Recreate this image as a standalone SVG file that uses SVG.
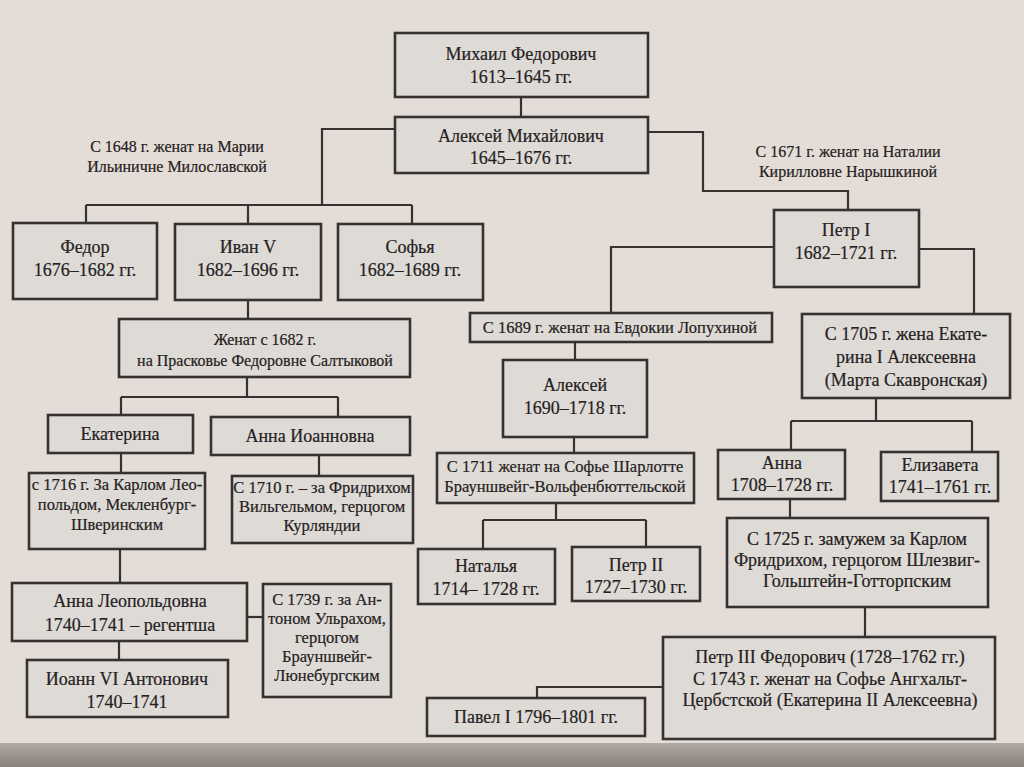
<svg xmlns="http://www.w3.org/2000/svg" width="1024" height="767" viewBox="0 0 1024 767">
<defs>
<linearGradient id="edge" x1="0" y1="0" x2="0" y2="1">
<stop offset="0" stop-color="#b3a9a3"/>
<stop offset="1" stop-color="#8a807b"/>
</linearGradient>
</defs>
<style>
.box{fill:#dedad6;stroke:#363232;stroke-width:2.6}
.con{fill:none;stroke:#363232;stroke-width:2.2}
text{font-family:"Liberation Serif","Times New Roman",serif;fill:#252121;text-anchor:middle;stroke:#252121;stroke-width:0.2}
.f18{font-size:18px}
.f17{font-size:17px}
.f165{font-size:16.5px}
.f16{font-size:16px}
</style>
<rect x="0" y="0" width="1024" height="767" fill="#e4ddd7"/>
<rect x="0" y="743" width="1024" height="24" fill="url(#edge)"/>

<g id="connectors">
<path class="con" d="M521,97 V117"/>
<path class="con" d="M395,129 H322 V205 M86,205 H412 M86,205 V223 M248,205 V224 M412,205 V224"/>
<path class="con" d="M648,132 H703 V191 H848 V210"/>
<path class="con" d="M774,247 H611 V313"/>
<path class="con" d="M919,249 H974 V314"/>
<path class="con" d="M248,300 V319"/>
<path class="con" d="M247,377 V397 M121,397 H338 M121,397 V415 M338,397 V417"/>
<path class="con" d="M121,453 V473"/>
<path class="con" d="M319,455 V476"/>
<path class="con" d="M120,549 V583"/>
<path class="con" d="M247,617 H263"/>
<path class="con" d="M119,641 V660"/>
<path class="con" d="M575,342 V360"/>
<path class="con" d="M574,437 V453"/>
<path class="con" d="M556,503 V520 M483,520 H646 M483,520 V549 M646,520 V547"/>
<path class="con" d="M876,398 V421 M791,421 H972 M791,421 V450 M972,421 V452"/>
<path class="con" d="M790,499 V518"/>
<path class="con" d="M865,607 V637"/>
<path class="con" d="M663,687 H537 V702"/>
</g>

<g id="note-miloslavskaya">
<text class="f16" x="177" y="152">С 1648 г. женат на Марии</text>
<text class="f16" x="177" y="172">Ильиничне Милославской</text>
</g>
<g id="note-naryshkina">
<text class="f16" x="848" y="157">С 1671 г. женат на Наталии</text>
<text class="f16" x="848" y="177">Кирилловне Нарышкиной</text>
</g>

<g id="mikhail">
<rect class="box" x="395" y="33" width="253" height="64"/>
<text class="f18" x="521" y="60">Михаил Федорович</text>
<text class="f18" x="521" y="83">1613–1645 гг.</text>
</g>
<g id="aleksey-mikhailovich">
<rect class="box" x="395" y="117" width="253" height="56"/>
<text class="f18" x="521" y="142">Алексей Михайлович</text>
<text class="f18" x="521" y="164">1645–1676 гг.</text>
</g>
<g id="fedor">
<rect class="box" x="13" y="223" width="144" height="76"/>
<text class="f18" x="85" y="253">Федор</text>
<text class="f18" x="85" y="276">1676–1682 гг.</text>
</g>
<g id="ivan5">
<rect class="box" x="175" y="224" width="146" height="76"/>
<text class="f18" x="248" y="253">Иван V</text>
<text class="f18" x="248" y="276">1682–1696 гг.</text>
</g>
<g id="sofya">
<rect class="box" x="338" y="224" width="145" height="76"/>
<text class="f18" x="410" y="253">Софья</text>
<text class="f18" x="410" y="276">1682–1689 гг.</text>
</g>
<g id="petr1">
<rect class="box" x="774" y="210" width="145" height="77"/>
<text class="f18" x="846" y="236">Петр I</text>
<text class="f18" x="846" y="259">1682–1721 гг.</text>
</g>
<g id="saltykova">
<rect class="box" x="119" y="319" width="291" height="58"/>
<text class="f16" x="265" y="345">Женат с 1682 г.</text>
<text class="f16" x="265" y="366">на Прасковье Федоровне Салтыковой</text>
</g>
<g id="ekaterina">
<rect class="box" x="48" y="415" width="145" height="38"/>
<text class="f18" x="120" y="440">Екатерина</text>
</g>
<g id="anna-ioannovna">
<rect class="box" x="211" y="417" width="199" height="38"/>
<text class="f18" x="310" y="442">Анна Иоанновна</text>
</g>
<g id="mecklenburg">
<rect class="box" x="29" y="473" width="176" height="76"/>
<text class="f165" x="117" y="490">с 1716 г. За Карлом Лео-</text>
<text class="f165" x="117" y="510">польдом, Мекленбург-</text>
<text class="f165" x="117" y="530">Шверинским</text>
</g>
<g id="kurland">
<rect class="box" x="232" y="476" width="181" height="67"/>
<text class="f165" x="322" y="493">С 1710 г. – за Фридрихом</text>
<text class="f165" x="322" y="512">Вильгельмом, герцогом</text>
<text class="f165" x="322" y="531">Курляндии</text>
</g>
<g id="anna-leopoldovna">
<rect class="box" x="12" y="583" width="235" height="58"/>
<text class="f18" x="130" y="607">Анна Леопольдовна</text>
<text class="f18" x="130" y="631">1740–1741 – регентша</text>
</g>
<g id="anton-ulrich">
<rect class="box" x="263" y="584" width="128" height="113"/>
<text class="f165" x="327" y="605">С 1739 г. за Ан-</text>
<text class="f165" x="327" y="624">тоном Ульрахом,</text>
<text class="f165" x="327" y="643">герцогом</text>
<text class="f165" x="327" y="662">Брауншвейг-</text>
<text class="f165" x="327" y="681">Люнебургским</text>
</g>
<g id="ioann6">
<rect class="box" x="27" y="660" width="201" height="57"/>
<text class="f18" x="127" y="685">Иоанн VI Антонович</text>
<text class="f18" x="127" y="708">1740–1741</text>
</g>
<g id="lopukhina">
<rect class="box" x="470" y="313" width="302" height="29"/>
<text class="f165" x="620" y="333">С 1689 г. женат на Евдокии Лопухиной</text>
</g>
<g id="aleksey">
<rect class="box" x="503" y="360" width="144" height="77"/>
<text class="f18" x="575" y="391">Алексей</text>
<text class="f18" x="575" y="414">1690–1718 гг.</text>
</g>
<g id="sofia-charlotte">
<rect class="box" x="437" y="453" width="257" height="50"/>
<text class="f165" x="565" y="472">С 1711 женат на Софье Шарлотте</text>
<text class="f165" x="565" y="492">Брауншвейг-Вольфенбюттельской</text>
</g>
<g id="natalya">
<rect class="box" x="418" y="549" width="137" height="55"/>
<text class="f18" x="486" y="572">Наталья</text>
<text class="f18" x="486" y="595">1714– 1728 гг.</text>
</g>
<g id="petr2">
<rect class="box" x="572" y="547" width="128" height="54"/>
<text class="f18" x="636" y="571">Петр II</text>
<text class="f18" x="636" y="593">1727–1730 гг.</text>
</g>
<g id="pavel1">
<rect class="box" x="427" y="698" width="218" height="38"/>
<text class="f18" x="536" y="723">Павел I 1796–1801 гг.</text>
</g>
<g id="ekaterina1">
<rect class="box" x="802" y="314" width="208" height="84"/>
<text class="f18" x="906" y="340">С 1705 г. жена Екате-</text>
<text class="f18" x="906" y="363">рина I Алексеевна</text>
<text class="f18" x="906" y="386">(Марта Скавронская)</text>
</g>
<g id="anna">
<rect class="box" x="718" y="450" width="127" height="49"/>
<text class="f18" x="782" y="469">Анна</text>
<text class="f18" x="782" y="491">1708–1728 гг.</text>
</g>
<g id="elizaveta">
<rect class="box" x="881" y="452" width="117" height="49"/>
<text class="f18" x="940" y="471">Елизавета</text>
<text class="f18" x="940" y="493">1741–1761 гг.</text>
</g>
<g id="holstein">
<rect class="box" x="727" y="518" width="261" height="89"/>
<text class="f18" x="857" y="545">С 1725 г. замужем за Карлом</text>
<text class="f18" x="857" y="566">Фридрихом, герцогом Шлезвиг-</text>
<text class="f18" x="857" y="587">Гольштейн-Готторпским</text>
</g>
<g id="petr3">
<rect class="box" x="663" y="637" width="332" height="102"/>
<text class="f18" x="830" y="663">Петр III Федорович (1728–1762 гг.)</text>
<text class="f18" x="830" y="685">С 1743 г. женат на Софье Ангхальт-</text>
<text class="f18" x="830" y="706">Цербстской (Екатерина II Алексеевна)</text>
</g>
</svg>
